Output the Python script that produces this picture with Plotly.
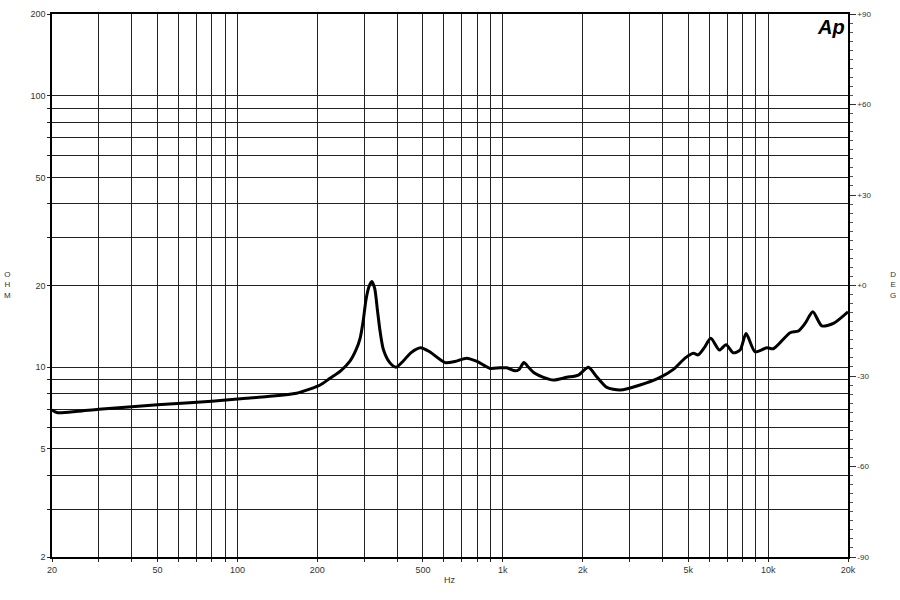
import plotly.graph_objects as go

# Impedance curve (Hz, Ohm)
freq_hz = [20, 21, 25, 30, 40, 50, 66, 80, 108, 130, 167, 205, 223, 245, 265, 280, 290, 298, 305,
           313, 321, 329, 337, 345, 355, 375, 396, 420, 450, 490, 530, 606, 660, 731, 800, 895,
           976, 1035, 1113, 1150, 1201, 1250, 1320, 1423, 1551, 1742, 1927, 2102, 2260, 2466,
           2767, 3291, 3915, 4396, 4864, 5229, 5450, 5750, 6079, 6550, 6943, 7396, 7843, 8260,
           8930, 9885, 10470, 12100, 13000, 13780, 14740, 15930, 17620, 20000]
impedance_ohm = [6.96, 6.8, 6.88, 7.0, 7.15, 7.27, 7.40, 7.5, 7.68, 7.8, 8.02, 8.6, 9.1, 9.7, 10.5,
                 11.6, 12.8, 14.9, 17.7, 19.8, 20.7, 19.5, 16.2, 13.5, 11.6, 10.4, 10.0, 10.5, 11.3,
                 11.8, 11.4, 10.4, 10.5, 10.8, 10.5, 9.9, 9.95, 9.95, 9.7, 9.8, 10.4, 10.0, 9.5,
                 9.18, 8.97, 9.18, 9.36, 10.0, 9.22, 8.43, 8.24, 8.6, 9.18, 9.82, 10.8, 11.25, 11.1,
                 11.8, 12.78, 11.57, 12.1, 11.3, 11.57, 13.3, 11.4, 11.8, 11.7, 13.4, 13.6, 14.5,
                 16.0, 14.2, 14.5, 16.0]

# Axis grid / tick definitions
x_grid = [20, 30, 40, 50, 60, 70, 80, 90, 100, 200, 300, 400, 500, 600, 700, 800, 900,
          1000, 2000, 3000, 4000, 5000, 6000, 7000, 8000, 9000, 10000, 20000]
x_labels = {20: "20", 50: "50", 100: "100", 200: "200", 500: "500", 1000: "1k",
            2000: "2k", 5000: "5k", 10000: "10k", 20000: "20k"}
y_grid = [2, 3, 4, 5, 6, 7, 8, 9, 10, 20, 30, 40, 50, 60, 70, 80, 90, 100, 200]
y_labels = {2: "2", 5: "5", 10: "10", 20: "20", 50: "50", 100: "100", 200: "200"}
deg_ticks = [-90, -60, -30, 0, 30, 60, 90]
deg_labels = ["-90", "-60", "-30", "+0", "+30", "+60", "+90"]

font_family = "Liberation Sans, Arial, sans-serif"
label_color = "#333333"
grid_color = "#222222"

W, H = 900, 600
L, R, T, B = 52, 52, 14, 43
plot_w = W - L - R
plot_h = H - T - B


def px_to_paper(px, py):
    return (px - L) / plot_w, 1 - (py - T) / plot_h


fig = go.Figure()
fig.add_trace(go.Scatter(
    x=freq_hz, y=impedance_ohm, mode="lines",
    line=dict(color="black", width=3, shape="spline", smoothing=0.7),
    hoverinfo="skip", showlegend=False))
# empty trace to attach the phase axis
fig.add_trace(go.Scatter(x=[], y=[], yaxis="y2", showlegend=False, hoverinfo="skip"))

hz_x, hz_y = px_to_paper(450, 580)
ohm_x, ohm_y = px_to_paper(7, 285)
deg_x, deg_y = px_to_paper(893, 285)
ap_x, ap_y = px_to_paper(847, 14)

fig.update_layout(
    width=W, height=H,
    margin=dict(l=L, r=R, t=T, b=B, autoexpand=False),
    paper_bgcolor="white", plot_bgcolor="white",
    font=dict(family=font_family, size=9, color=label_color),
    xaxis=dict(
        type="log", range=[1.30103, 4.30103], automargin=False,
        tickvals=x_grid, ticktext=[x_labels.get(v, "") for v in x_grid],
        showgrid=True, gridcolor=grid_color, gridwidth=1,
        ticks="outside", ticklen=3, tickcolor=grid_color,
        showline=True, linecolor="black", linewidth=1.5, mirror=True,
        zeroline=False,
        tickfont=dict(family=font_family, size=9, color=label_color),
    ),
    yaxis=dict(
        type="log", range=[0.30103, 2.30103], automargin=False,
        tickvals=y_grid, ticktext=[y_labels.get(v, "") for v in y_grid],
        showgrid=True, gridcolor=grid_color, gridwidth=1,
        ticks="outside", ticklen=3, tickcolor=grid_color,
        showline=True, linecolor="black", linewidth=1.5, mirror=True,
        zeroline=False,
        tickfont=dict(family=font_family, size=9, color=label_color),
    ),
    yaxis2=dict(
        overlaying="y", side="right", range=[-90, 90], automargin=False,
        tickvals=deg_ticks, ticktext=deg_labels,
        showgrid=False, zeroline=False,
        ticks="outside", ticklen=6, tickcolor="#333333",
        minor=dict(dtick=3, ticks="outside", ticklen=3, tickcolor="#555555"),
        showline=True, linecolor="black", linewidth=1.5,
        tickfont=dict(family=font_family, size=8, color=label_color),
    ),
    annotations=[
        dict(text="Hz", x=hz_x, y=hz_y, xref="paper", yref="paper",
             xanchor="center", yanchor="middle", showarrow=False,
             font=dict(family=font_family, size=9, color=label_color)),
        dict(text="O<br>H<br>M", x=ohm_x, y=ohm_y, xref="paper", yref="paper",
             xanchor="center", yanchor="middle", showarrow=False,
             font=dict(family=font_family, size=8, color=label_color)),
        dict(text="D<br>E<br>G", x=deg_x, y=deg_y, xref="paper", yref="paper",
             xanchor="center", yanchor="middle", showarrow=False,
             font=dict(family=font_family, size=8, color=label_color)),
        dict(text="<b><i>Ap</i></b>", x=ap_x, y=ap_y, xref="paper", yref="paper",
             xanchor="right", yanchor="top", showarrow=False,
             font=dict(family="Liberation Sans, Arial, sans-serif", size=20, color="black")),
    ],
)

fig.write_html("out.html", config={"displayModeBar": False},
               post_script="document.body.style.margin='0';document.body.style.overflow='hidden';")
